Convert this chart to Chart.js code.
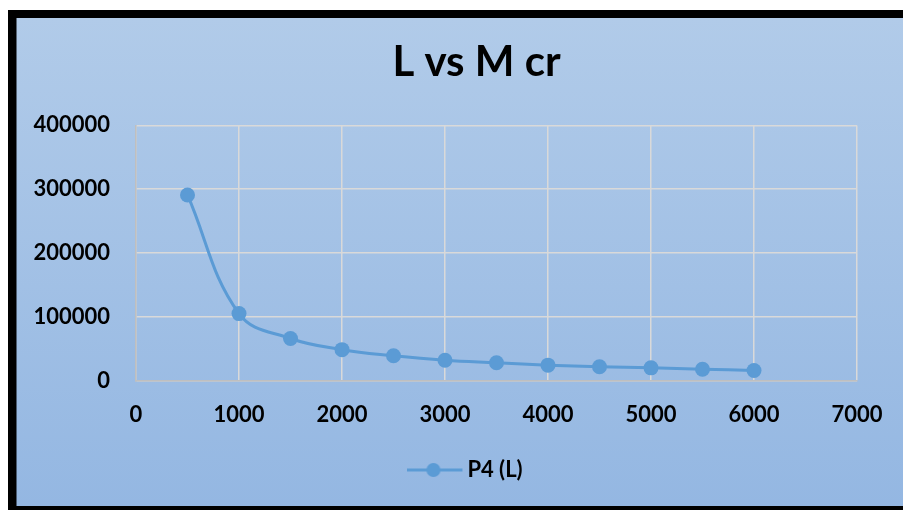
<!DOCTYPE html>
<html>
<head>
<meta charset="utf-8">
<script src="https://cdn.jsdelivr.net/npm/chart.js@4"></script>
<style>
  html, body { margin: 0; padding: 0; background: #fff; overflow: hidden; }
  #wrap { width: 903px; height: 510px; overflow: hidden; }
</style>
</head>
<body>
<div id="wrap"><canvas id="myChart" width="936" height="510"></canvas></div>
<script>
var lengths = [500, 1000, 1500, 2000, 2500, 3000, 3500, 4000, 4500, 5000, 5500, 6000];
var mcrValues = [291000, 105000, 66000, 48500, 39000, 32000, 28000, 24200, 21600, 20000, 17900, 15800];
var seriesName = "P4 (L)";
var chartTitle = "L vs M cr";

var points = lengths.map(function (x, i) { return { x: x, y: mcrValues[i] }; });

var lineBlue = "#5b9bd5";

// legend marker: line with a dot, drawn into a small canvas
var marker = document.createElement("canvas");
marker.width = 72;
marker.height = 16;
var mctx = marker.getContext("2d");
mctx.strokeStyle = lineBlue;
mctx.lineWidth = 3;
mctx.beginPath();
mctx.moveTo(0, 8);
mctx.lineTo(55, 8);
mctx.stroke();
mctx.fillStyle = lineBlue;
mctx.beginPath();
mctx.arc(26, 8, 7, 0, Math.PI * 2);
mctx.fill();

var frame = {
  id: "frame",
  beforeDraw: function (chart) {
    var c = chart.ctx;
    c.save();
    c.fillStyle = "#fff";
    c.fillRect(0, 0, chart.width, chart.height);
    var g = c.createLinearGradient(0, 18, 0, 506);
    g.addColorStop(0, "#b1cbe9");
    g.addColorStop(1, "#94b7e2");
    c.fillStyle = g;
    c.fillRect(16, 18, chart.width - 16, 488);
    c.fillStyle = "#000";
    c.fillRect(8, 10, chart.width - 8, 8);
    c.fillRect(8, 10, 8.5, 500);
    c.fillRect(8, 506, chart.width - 8, 4);
    c.restore();
  }
};

Chart.defaults.font.family = "Lato";
Chart.defaults.font.weight = "bold";
Chart.defaults.color = "#000";

new Chart(document.getElementById("myChart"), {
  type: "line",
  data: {
    datasets: [{
      label: seriesName,
      data: points,
      borderColor: lineBlue,
      backgroundColor: lineBlue,
      borderWidth: 3,
      pointRadius: 7.5,
      pointHoverRadius: 7.5,
      pointBorderWidth: 0,
      pointBackgroundColor: lineBlue,
      tension: 0.4,
      fill: false
    }]
  },
  options: {
    responsive: false,
    animation: false,
    layout: { padding: { left: 17, top: 18, right: 0, bottom: 19 } },
    plugins: {
      title: {
        display: true,
        text: chartTitle,
        font: { size: 42, weight: "bold" },
        padding: { top: 19, bottom: 38 }
      },
      legend: {
        position: "bottom",
        labels: {
          font: { size: 22, weight: "bold" },
          usePointStyle: true,
          pointStyleWidth: 26,
          padding: 10,
          generateLabels: function (chart) {
            return chart.data.datasets.map(function (ds, i) {
              return {
                text: ds.label,
                pointStyle: marker,
                fontColor: "#000",
                datasetIndex: i,
                hidden: false,
                lineWidth: 0
              };
            });
          }
        }
      },
      tooltip: { enabled: false }
    },
    scales: {
      x: {
        type: "linear",
        min: 0,
        max: 7000,
        ticks: { stepSize: 1000, padding: 21, font: { size: 22, weight: "bold" }, callback: function (v) { return String(v); } },
        grid: { color: "#d9d9d9", lineWidth: 1.5, drawTicks: false },
        border: { color: "#bfbfbf", width: 1.5 }
      },
      y: {
        min: 0,
        max: 400000,
        ticks: { stepSize: 100000, padding: 26, font: { size: 22, weight: "bold" }, callback: function (v) { return String(v); } },
        grid: { color: "#d9d9d9", lineWidth: 1.5, drawTicks: false },
        border: { color: "#bfbfbf", width: 1.5 },
        afterFit: function (s) { s.width = 119; }
      },
      y2: {
        type: "linear",
        position: "right",
        display: true,
        grid: { display: false, drawTicks: false },
        ticks: { display: false },
        border: { display: false },
        afterFit: function (s) { s.width = 79; }
      }
    }
  },
  plugins: [frame]
});
</script>
</body>
</html>
